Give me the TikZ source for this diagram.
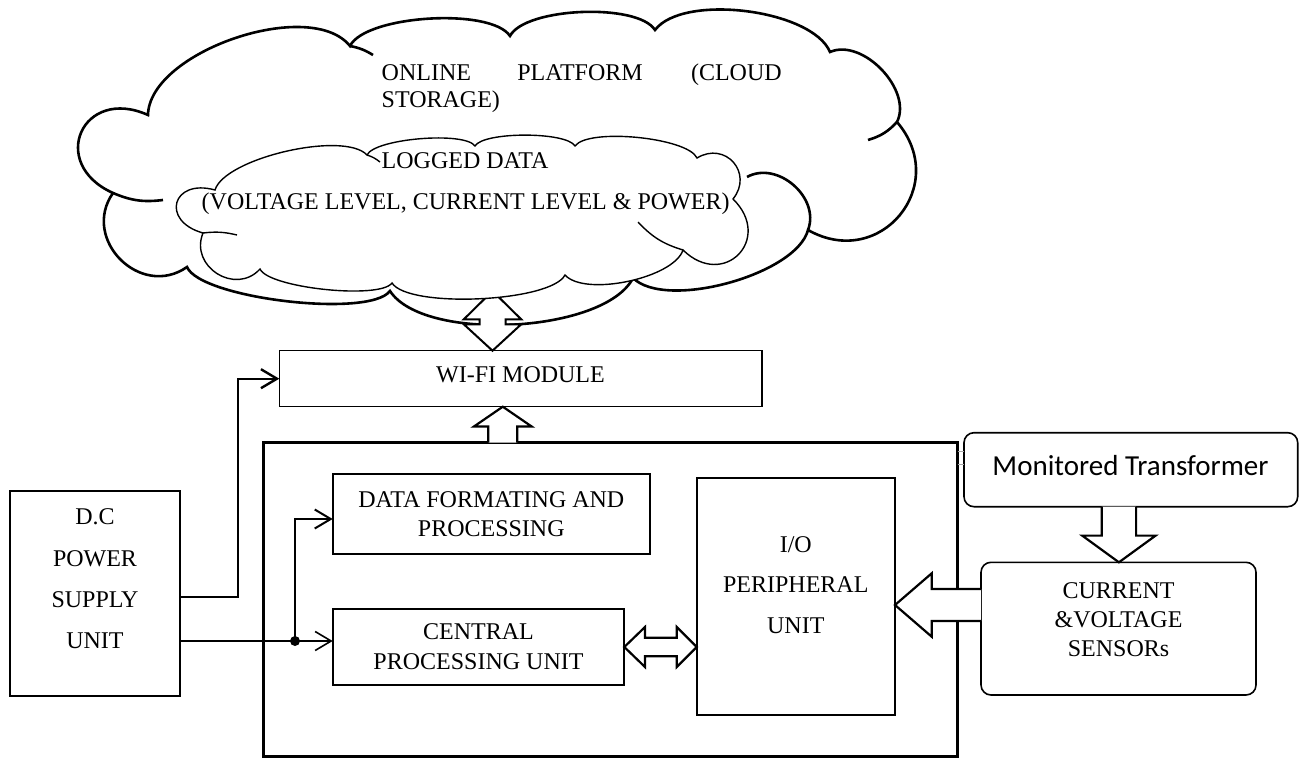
\documentclass[tikz,border=0pt]{standalone}
\usepackage{fontspec}
\setmainfont{Liberation Serif}
\newfontfamily\calibrifont{Carlito}
\usetikzlibrary{arrows.meta,calc}
\begin{document}
\begin{tikzpicture}[x=0.5pt,y=0.5pt,
  box/.style={draw, inner sep=0pt, outer sep=0pt},
  txt/.style={inner sep=0pt, outer sep=0pt, font=\fontsize{12}{14.5}\selectfont, align=center},
  blk/.style={draw, fill=white, line width=1.1pt, line join=miter},
  conn/.style={line width=1.2pt, -{Straight Barb[length=8pt,width=9.5pt]}},
  ocloud/.style={draw, fill=white, line width=1.3pt},
  icloud/.style={draw, fill=white, line width=0.7pt},
  ohook/.style={line width=1.3pt},
  ihook/.style={line width=0.7pt}
]
\fill[white] (0,0) rectangle (1299,-759);
\useasboundingbox (0,0) rectangle (1299,-759);

% boxes
\node[box, line width=0.75pt, minimum width=241.35pt, minimum height=28pt] (wifi) at (520.65,-378.7) {};
\node[box, line width=1.5pt, minimum width=347.2pt, minimum height=156.75pt] (big) at (610.5,-599.25) {};
\node[box, line width=0.9pt, minimum width=158.65pt, minimum height=40pt] (data) at (491.35,-514) {};
\node[box, line width=0.9pt, minimum width=145.8pt, minimum height=38pt] (cpu) at (478.5,-647) {};
\node[box, line width=0.9pt, minimum width=99.15pt, minimum height=118.65pt] (io) at (795.85,-596.35) {};
\node[box, line width=1.3pt, minimum width=85pt, minimum height=102.5pt] (dc) at (95,-593.5) {};
\node[box, rounded corners=5pt, line width=0.8pt, minimum width=166.85pt, minimum height=37pt] (mon) at (1130.85,-469.7) {};
\node[box, rounded corners=5pt, line width=0.8pt, minimum width=137.5pt, minimum height=66.35pt] (sens) at (1118.5,-628.65) {};

% outer cloud
\path[ocloud] (148,-115)
 to[bend left=70, looseness=0.76] (350,-46)
 to[bend left=60, looseness=0.55] (510,-36)
 to[bend left=60, looseness=0.57] (655,-30)
 to[bend left=60, looseness=0.67] (830,-52)
 to[bend left=70, looseness=0.94] (897,-122)
 to[bend left=80, looseness=1.52] (808,-230)
 to[bend left=60, looseness=0.65] (633,-278)
 to[bend left=60, looseness=0.65] (390,-291)
 to[bend left=60, looseness=0.43] (187,-267)
 to[bend left=80, looseness=1.38] (113,-193)
 to[bend left=90, looseness=2.15] (148,-115) -- cycle;
\draw[ohook] (350,-46) to[bend left=10] (373,-55);
\draw[ohook] (897,-122) to[bend left=15] (868,-140);
\draw[ohook] (808,-230) to[bend right=70, looseness=1.1] (747,-177);
\draw[ohook] (113,-193) to[bend right=15] (163,-200);

% cloud <-> wifi double arrow
\coordinate (cax) at (492.5,0);
\coordinate (cb) at (cax |- wifi.north);
\coordinate (ct) at ($(cb)+(0,59.7)$);
\path[blk, line width=1pt] (cb) -- ++(-28.7,26.4) -- ++(15.7,0) -- ++(0,5) -- ++(-15.7,0) -- (ct)
  -- ($(cb)+(28.7,31.4)$) -- ++(-15.7,0) -- ++(0,-5) -- ++(15.7,0) -- cycle;

% inner cloud
\path[icloud] (215,-190)
 to[bend left=60, looseness=0.55] (367,-155)
 to[bend left=60, looseness=0.43] (475,-146)
 to[bend left=60, looseness=0.43] (575,-146)
 to[bend left=60, looseness=0.47] (697,-158)
 to[bend left=80, looseness=1.56] (733,-199)
 to[bend left=90, looseness=2.04] (683,-250)
 to[bend left=60, looseness=0.63] (565,-275)
 to[bend left=60, looseness=0.45] (392,-283)
 to[bend left=60, looseness=0.4] (260,-269)
 to[bend left=80, looseness=1.38] (203,-233)
 to[bend left=90, looseness=2.55] (215,-190) -- cycle;
\draw[ihook] (367,-155) to[bend left=10] (380,-162);
\draw[ihook] (203,-233) to[bend left=10] (237,-235);
\draw[ihook] (683,-250) to[bend left=15] (638,-222);

% cloud texts
\node[txt, anchor=base west] (t1) at (381.7,-81) {ONLINE};
\node[txt, anchor=base west] (t2) at (517.3,-81) {PLATFORM};
\node[txt, anchor=base east] (t3) at (781.7,-81) {(CLOUD};
\node[txt, anchor=base west] (t4) at (381.7,-107.3) {STORAGE)};
\node[txt, anchor=base west] (t5) at (381.7,-168.3) {LOGGED DATA};
\node[txt, anchor=base west] (t6) at (201.7,-210) {(VOLTAGE LEVEL, CURRENT LEVEL \& POWER)};

% block arrows
\coordinate (upx) at (502.8,0);
\coordinate (ub) at (upx |- big.north);
\coordinate (ut) at (upx |- wifi.south);
\path[blk] ($(ub)+(-14.5,0)$) -- ($(ut)+(-14.5,-19.8)$) -- ($(ut)+(-28.85,-19.8)$) -- (ut)
  -- ($(ut)+(28.85,-19.8)$) -- ($(ut)+(14.5,-19.8)$) -- ($(ub)+(14.5,0)$);

\coordinate (dnx) at (1118.9,0);
\coordinate (db) at (dnx |- mon.south);
\coordinate (dt) at (dnx |- sens.north);
\path[blk] ($(db)+(-17.2,0)$) -- ($(dt)+(-17.2,26.7)$) -- ($(dt)+(-36.7,26.7)$) -- (dt)
  -- ($(dt)+(36.7,26.7)$) -- ($(dt)+(17.2,26.7)$) -- ($(db)+(17.2,0)$);

\coordinate (ly) at (0,-605);
\coordinate (lb) at (sens.west |- ly);
\coordinate (lt) at (io.east |- ly);
\path[blk] ($(lb)+(0,16)$) -- ($(lt)+(36.7,16)$) -- ($(lt)+(36.7,31.7)$) -- (lt)
  -- ($(lt)+(36.7,-31.7)$) -- ($(lt)+(36.7,-16)$) -- ($(lb)+(0,-16)$);

\coordinate (dl) at (cpu.east);
\coordinate (dr) at (io.west |- cpu.east);
\path[blk] (dl) -- ($(dl)+(20.7,20)$) -- ($(dl)+(20.7,9.2)$) -- ($(dr)+(-20,9.2)$) -- ($(dr)+(-20,20)$) -- (dr)
  -- ($(dr)+(-20,-20)$) -- ($(dr)+(-20,-9.2)$) -- ($(dl)+(20.7,-9.2)$) -- ($(dl)+(20.7,-20)$) -- cycle;

% small marks between big box and transformer box
\coordinate (g1) at (0,-451.7);
\coordinate (g2) at (0,-464);
\draw[gray!70, line width=0.4pt] (big.east |- g1) -- (mon.west |- g1);
\draw[gray!70, line width=0.4pt] (big.east |- g2) -- (mon.west |- g2);

% connectors
\coordinate (l1y) at (0,-596.7);
\coordinate (l1x) at (237.7,0);
\draw[conn] (dc.east |- l1y) -| (l1x |- wifi.west) -- (wifi.west);
\node[circle, fill, inner sep=0pt, minimum size=5pt] (dot) at (295,-641) {};
\draw[conn, line width=0.8pt] (dc.east |- dot.center) -- (cpu.west |- dot.center);
\coordinate (bry) at (0,-519);
\draw[conn, line width=1pt] (dot.center) |- (data.west |- bry);

% box texts
\node[txt, anchor=base] (wifitxt) at (520.5,-382.3) {WI-FI MODULE};
\node[txt, anchor=north, font=\fontsize{12}{14.5}\selectfont] (datatxt) at (491.3,-491.8) {DATA FORMATING AND\\PROCESSING};
\node[txt, anchor=north, font=\fontsize{12}{15}\selectfont] (cputxt) at (478.5,-624.1) {CENTRAL\\PROCESSING UNIT};
\node[txt, anchor=north, font=\fontsize{12}{20.25}\selectfont] (iotxt) at (795.8,-536.4) {I/O\\PERIPHERAL\\UNIT};
\node[txt, anchor=north, font=\fontsize{12}{20.55}\selectfont] (dctxt) at (95,-509.1) {D.C\\POWER\\SUPPLY\\UNIT};
\node[txt, anchor=north, font=\fontsize{12}{14.6}\selectfont] (senstxt) at (1118.5,-582.4) {CURRENT\\\&VOLTAGE\\SENSORs};
\node[inner sep=0pt, anchor=base, font=\calibrifont\fontsize{14.5}{17}\selectfont] (montxt) at (1130.5,-475) {Monitored Transformer};
\end{tikzpicture}
\end{document}
